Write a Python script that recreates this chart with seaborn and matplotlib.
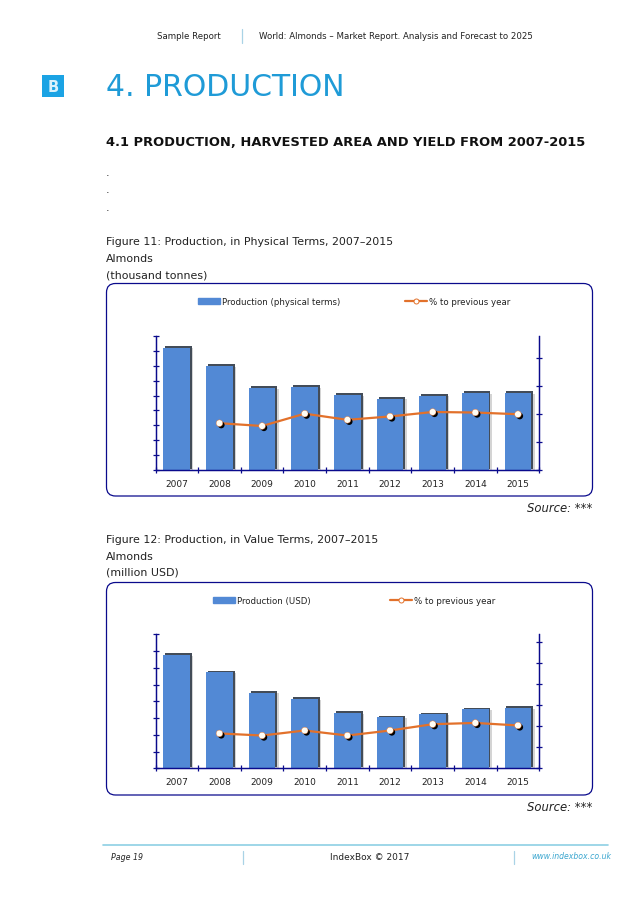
import numpy as np
import pandas as pd
import seaborn as sns
import matplotlib
matplotlib.use("Agg")
import matplotlib.pyplot as plt
import matplotlib.patheffects as pe
from matplotlib.lines import Line2D
from matplotlib.patches import FancyBboxPatch, Patch, Rectangle

years = ["2007", "2008", "2009", "2010", "2011", "2012", "2013", "2014", "2015"]

# values, the axes have no labels so the units are estimates
physical = [820, 698, 551, 558, 504, 480, 500, 516, 516]
physical_pct = [84, 79, 101, 90, 96, 104, 103, 100]
value_usd = [3385, 2865, 2260, 2070, 1660, 1520, 1610, 1760, 1800]
value_pct = [83, 78, 90, 78, 90, 105, 108, 102]

BLUE = "#5289d5"
ORANGE = "#e2712b"
NAVY = "#0a0a8c"
TEAL = "#1f9bd7"
W, H = 638, 903

sns.set_theme(style="white")
plt.rcParams["font.family"] = ["DejaVu Sans"]

fig = plt.figure(figsize=(W / 100, H / 100), dpi=100)

# page layer in pixel coordinates
page = fig.add_axes([0, 0, 1, 1])
page.set_xlim(0, W)
page.set_ylim(H, 0)
page.axis("off")


def txt(x, y, s, size=6.25, color="#222222", **kw):
    kw.setdefault("va", "center")
    page.text(x, y, s, fontsize=size, color=color, **kw)


def chart(frame, plot_box, bars, pct, bar_max, bar_step, pct_max, pct_step, label, legend_x, col_space):
    left, right, top, bottom = frame
    page.add_patch(FancyBboxPatch((left + 8, top + 8), right - left - 16, bottom - top - 16,
                                  boxstyle="round,pad=8,rounding_size=9", fc="white", ec=NAVY, lw=0.9))

    x0, x1, y0, y1 = plot_box
    ax = fig.add_axes([x0 / W, 1 - y1 / H, (x1 - x0) / W, (y1 - y0) / H])
    ax.patch.set_alpha(0)

    df = pd.DataFrame({"year": years, "value": bars})
    sns.barplot(data=df, x="year", y="value", color=BLUE, saturation=1, width=0.625, linewidth=0, ax=ax)
    for bar in ax.patches:
        bar.set_path_effects([
            pe.SimplePatchShadow(offset=(2.4, -0.6), shadow_rgbFace="#b8b8b8", alpha=0.6),
            pe.SimplePatchShadow(offset=(1.3, 1.2), shadow_rgbFace="#434c58", alpha=1),
            pe.Normal(),
        ])
    ax.set_xlim(-0.5, len(years) - 0.5)
    ax.set_ylim(0, bar_max)
    ax.set_yticks(np.arange(0, bar_max + 1, bar_step))
    ax.set_yticklabels([])
    ax.set_xlabel("")
    ax.set_ylabel("")

    ax.set_xticks(np.arange(-0.5, len(years)))
    ax.set_xticklabels([])
    ax.set_xticks(np.arange(len(years)), labels=years, minor=True)
    ax.tick_params(axis="x", which="major", direction="inout", length=5, width=0.9, color=NAVY, bottom=True)
    ax.tick_params(axis="x", which="minor", length=0, pad=6, labelsize=6.5, labelcolor="#222222")
    ax.tick_params(axis="y", direction="inout", length=5, width=0.9, color=NAVY, left=True)

    twin = ax.twinx()
    pct_df = pd.DataFrame({"pos": [years.index(y) for y in years[1:]], "pct": pct})
    sns.lineplot(data=pct_df, x="pos", y="pct", color=ORANGE, lw=1.6, ax=twin, zorder=3)
    sns.scatterplot(data=pct_df, x="pos", y="pct", s=23, color="#fffdf5", edgecolor=ORANGE, linewidth=0.3,
                    ax=twin, zorder=4,
                    path_effects=[pe.SimplePatchShadow(offset=(1.3, -1.3), shadow_rgbFace="black", alpha=1), pe.Normal()])
    twin.set_ylim(0, pct_max)
    twin.set_yticks(np.arange(0, pct_max, pct_step))
    twin.set_yticklabels([])
    twin.set_xlabel("")
    twin.set_ylabel("")
    twin.tick_params(axis="y", direction="inout", length=4.5, width=0.9, color=NAVY, right=True)

    for a in (ax, twin):
        for name, spine in a.spines.items():
            spine.set_visible(name in ("left", "bottom", "right"))
            spine.set_color(NAVY)
            spine.set_linewidth(0.9)

    handles = [Patch(color=BLUE, label=label),
               Line2D([], [], color=ORANGE, lw=1.6, marker="o", ms=3.6, mfc="white", mec=ORANGE, mew=0.7,
                      label="% to previous year")]
    fig.legend(handles=handles, ncol=2, frameon=False, loc="center left", fontsize=6.25,
               bbox_to_anchor=(legend_x / W, 1 - (top + 18) / H), borderpad=0, borderaxespad=0,
               handlelength=2.55, handletextpad=0.25, columnspacing=col_space, labelcolor="#222222")


# header
txt(157, 36.7, "Sample Report")
txt(259, 36.7, "World: Almonds \u2013 Market Report. Analysis and Forecast to 2025")
page.plot([242, 242], [30, 44], color="#a9d3e6", lw=0.9)

page.add_patch(Rectangle((42, 76), 22, 22, fc="#1ba3e4", ec="none"))
txt(53, 87, "B", 10.5, "#d9f1fb", ha="center", fontweight="bold")
txt(106, 88, "4. PRODUCTION", 21.5, TEAL)
txt(106, 142, "4.1 PRODUCTION, HARVESTED AREA AND YIELD FROM 2007-2015", 9.4, "#111111", fontweight="bold")
for y in (173, 190, 208):
    txt(106, y, ".", 8)

# figure 11
txt(106, 241.6, "Figure 11: Production, in Physical Terms, 2007\u20132015", 7.9)
txt(106, 258.6, "Almonds", 7.9)
txt(106, 275.6, "(thousand tonnes)", 7.9)
chart((106.5, 592.5, 284.5, 497), (155.5, 539.3, 336.7, 471.3), physical, physical_pct,
      900, 100, 240, 50, "Production (physical terms)", 198, 7.4)
txt(592, 509, "Source: ***", 8.4, ha="right", style="italic")

# figure 12
txt(106, 539.6, "Figure 12: Production, in Value Terms, 2007\u20132015", 7.9)
txt(106, 556.6, "Almonds", 7.9)
txt(106, 572.6, "(million USD)", 7.9)
chart((106.5, 592.5, 583.5, 796), (155.5, 539.3, 635.3, 769.3), value_usd, value_pct,
      4000, 500, 319, 50, "Production (USD)", 213, 9.1)
txt(592, 808, "Source: ***", 8.4, ha="right", style="italic")

# footer
page.plot([103, 608], [846, 846], color="#8ed0e4", lw=1.2)
page.plot([243, 243], [852, 865], color="#a9d3e6", lw=0.9)
page.plot([514, 514], [852, 865], color="#a9d3e6", lw=0.9)
txt(111, 858, "Page 19", 5.7, style="italic")
txt(330, 858, "IndexBox \u00a9 2017", 6.5)
txt(531, 857, "www.indexbox.co.uk", 5.6, "#3aa6cf", style="italic")

fig.savefig("out.png", dpi=100, facecolor="white")
